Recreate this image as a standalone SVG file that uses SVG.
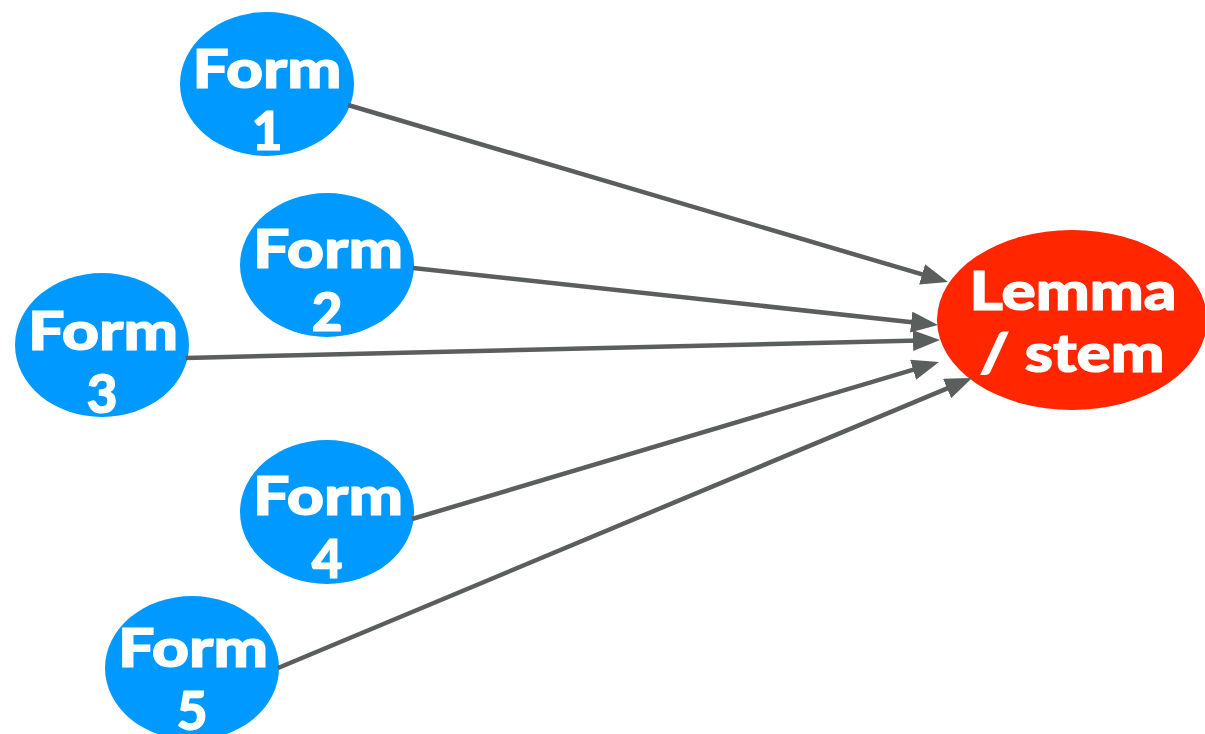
<svg xmlns="http://www.w3.org/2000/svg" width="1205" height="734" viewBox="0 0 1205 734">
  <style>
    .form { fill: #0099ff; }
    .lemma { fill: #ff2600; }
    .label { font-family: "Lato", "Open Sans", "Liberation Sans", sans-serif; font-weight: 900; font-size: 53px; fill: #ffffff; stroke: #ffffff; stroke-width: 1.2; text-anchor: middle; }
    .edge { stroke: #5a5e5c; stroke-width: 4.5; fill: none; marker-end: url(#arrow); }
  </style>
  <defs>
    <marker id="arrow" markerUnits="userSpaceOnUse" markerWidth="28" markerHeight="22" refX="17" refY="10.5" orient="auto">
      <path d="M0,0 L27,10.5 L0,21 z" fill="#5a5e5c"/>
    </marker>
  </defs>
  <rect width="1205" height="734" fill="#ffffff"/>

  <g id="form1">
    <ellipse class="form" cx="267" cy="84" rx="87" ry="72"/>
    <text class="label" x="267" y="88" textLength="149" lengthAdjust="spacingAndGlyphs">Form</text>
    <text class="label" x="267" y="150">1</text>
  </g>
  <g id="form2">
    <ellipse class="form" cx="327" cy="265" rx="87" ry="72"/>
    <text class="label" x="328" y="268" textLength="150" lengthAdjust="spacingAndGlyphs">Form</text>
    <text class="label" x="327" y="331">2</text>
  </g>
  <g id="form3">
    <ellipse class="form" cx="102" cy="345" rx="87" ry="72"/>
    <text class="label" x="103" y="350" textLength="150" lengthAdjust="spacingAndGlyphs">Form</text>
    <text class="label" x="102" y="413">3</text>
  </g>
  <g id="form4">
    <ellipse class="form" cx="327" cy="512" rx="87" ry="72"/>
    <text class="label" x="328" y="515" textLength="150" lengthAdjust="spacingAndGlyphs">Form</text>
    <text class="label" x="327" y="578">4</text>
  </g>
  <g id="form5">
    <ellipse class="form" cx="192" cy="668" rx="87" ry="72"/>
    <text class="label" x="193" y="667" textLength="150" lengthAdjust="spacingAndGlyphs">Form</text>
    <text class="label" x="192" y="730">5</text>
  </g>
  <g id="lemma">
    <ellipse class="lemma" cx="1072" cy="320" rx="135" ry="90"/>
    <text class="label" x="1073" y="310" textLength="207" lengthAdjust="spacingAndGlyphs">Lemma</text>
    <text class="label" x="1072" y="372" textLength="185" lengthAdjust="spacingAndGlyphs">/ stem</text>
  </g>

  <g id="connectors">
    <line class="edge" x1="348" y1="105" x2="938.4" y2="279.2"/>
    <line class="edge" x1="413" y1="268" x2="928.1" y2="323.9"/>
    <line class="edge" x1="186" y1="358" x2="930" y2="340.2"/>
    <line class="edge" x1="412" y1="519" x2="929.4" y2="364.9"/>
    <line class="edge" x1="278" y1="668" x2="962.8" y2="381.9"/>
  </g>
</svg>
